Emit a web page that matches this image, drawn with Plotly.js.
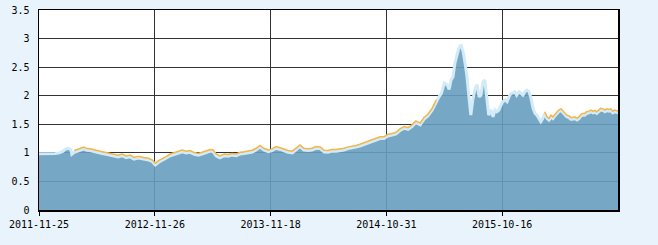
<!DOCTYPE html>
<html>
<head>
<meta charset="utf-8">
<script src="https://cdn.plot.ly/plotly-3.0.1.min.js"></script>
<style>html,body{margin:0;padding:0;background:#e8f3fb;}#chart{width:658px;height:245px;}</style>
</head>
<body>
<div id="chart"></div>
<script>
// trading-day index of each sampled point
const day = [0,17,34,42,50,54,61,66,68,73,78,85,93,99,106,114,123,131,139,148,156,164,172,181,189,197,203,
209,217,227,235,241,248,255,263,272,280,288,297,305,313,322,330,338,346,355,361,367,375,384,392,400,409,
417,425,433,442,450,458,466,475,483,491,500,508,516,525,533,541,549,558,566,574,583,591,599,607,616,
624,632,641,649,657,665,674,682,690,699,707,715,723,732,740,748,757,765,773,781,790,798,806,815,823,
829,834,840,846,850,854,858,862,866,870,875,879,883,887,891,895,899,904,908,912,916,920,924,928,932,937,941,945,949,953,957,961,966,970,974,978,982,986,990,995,999,1003,1007,1011,1015,
1019,1024,1028,1032,1036,1040,1044,1048,1053,1057,1061,1065,1069,1073,1077,1082,1086,1090,1094,1098,1102,1106,1111,1115,1119,1123,1127,1131,1135,1140,1144,1148,1152,1156,1160,1164,1169,1173,1177,1181,1185,1189,1193,1200];

// filled area values
const areaVals = [0.985,0.985,0.99,1.00,1.03,1.06,1.08,1.055,0.975,1.01,1.03,1.045,1.07,1.045,1.04,1.02,1.01,0.99,0.975,0.96,0.95,0.93,0.95,0.915,0.93,0.89,0.905,
0.905,0.89,0.875,0.845,0.79,0.835,0.875,0.905,0.95,0.975,0.99,1.02,1.00,1.01,0.975,0.96,0.98,1.01,1.03,1.02,0.95,0.915,0.95,0.94,0.96,0.95,
0.98,0.99,1.00,1.015,1.05,1.10,1.05,1.02,1.04,1.08,1.06,1.03,1.01,1.00,1.05,1.11,1.05,1.04,1.05,1.08,1.075,1.015,1.01,1.03,1.03,
1.04,1.05,1.075,1.085,1.10,1.12,1.145,1.17,1.19,1.225,1.25,1.25,1.295,1.31,1.33,1.39,1.43,1.41,1.46,1.53,1.49,1.59,1.645,1.75,1.895,
1.98,2.04,2.22,2.19,2.11,2.275,2.33,2.57,2.71,2.83,2.89,2.77,2.57,2.33,1.98,1.66,1.925,2.13,2.19,1.98,2.01,2.245,2.275,1.98,1.66,1.75,1.63,1.75,1.72,1.75,1.84,1.895,1.925,1.895,1.98,2.04,2.05,2.07,2.01,2.07,2.04,2.01,2.07,2.10,2.08,
1.98,1.78,1.69,1.66,1.60,1.545,1.60,1.69,1.60,1.575,1.63,1.60,1.645,1.69,1.72,1.74,1.70,1.66,1.63,1.62,1.59,1.59,1.60,1.575,1.60,1.645,1.66,1.66,1.69,1.70,1.72,1.70,1.71,1.69,1.72,1.75,1.74,1.72,1.74,1.73,1.74,1.70,1.72,1.70];

// orange line values (null where it is not visible)
const lineVals = [null,null,null,null,null,null,null,null,null,1.04,1.06,1.075,1.10,1.075,1.07,1.05,1.04,1.02,1.005,0.99,0.98,0.96,0.98,0.945,0.96,0.92,0.935,
0.935,0.92,0.905,0.875,0.82,0.865,0.905,0.935,0.98,1.005,1.02,1.05,1.03,1.04,1.005,0.99,1.01,1.04,1.06,1.05,0.98,0.945,0.98,0.97,0.99,0.98,
1.01,1.02,1.03,1.045,1.08,1.13,1.08,1.05,1.07,1.11,1.09,1.06,1.04,1.03,1.08,1.14,1.08,1.07,1.08,1.11,1.105,1.045,1.04,1.06,1.06,
1.07,1.08,1.105,1.115,1.13,1.15,1.175,1.20,1.22,1.255,1.28,1.28,1.325,1.34,1.36,1.42,1.46,1.44,1.49,1.56,1.52,1.62,1.675,1.78,1.925,
null,null,null,null,null,null,null,null,null,null,null,null,null,null,null,null,null,null,null,null,null,null,null,null,null,null,null,null,null,null,null,null,null,null,null,null,null,null,null,null,null,null,null,null,null,
null,null,null,null,null,null,null,1.72,1.63,1.605,1.66,1.63,1.675,1.72,1.75,1.77,1.73,1.69,1.66,1.65,1.62,1.62,1.63,1.605,1.63,1.675,1.69,1.69,1.72,1.73,1.75,1.73,1.74,1.72,1.75,1.78,1.77,1.75,1.77,1.76,1.77,1.73,1.75,1.73];

const xTickVals = [0,240,480,720,960];
const xTickText = ['2011-11-25','2012-11-26','2013-11-18','2014-10-31','2015-10-16'];
const yTickVals = [0,0.5,1,1.5,2,2.5,3,3.5];
const yTickText = ['0','0.5','1','1.5','2','2.5','3','3.5'];

const font = {family:'DejaVu Sans Mono, Liberation Mono, monospace', size:10, color:'#000'};

const traces = [
  {x: day, y: areaVals, type:'scatter', mode:'lines', fill:'tozeroy',
   fillcolor:'rgba(103,159,192,0.9)', line:{color:'#d3eaf7', width:3}, hoverinfo:'skip'},
  {x: day, y: lineVals, type:'scatter', mode:'lines', connectgaps:false,
   line:{color:'#f6b546', width:1.5}, hoverinfo:'skip'}
];

const layout = {
  width:658, height:245,
  paper_bgcolor:'#e8f3fb', plot_bgcolor:'#ffffff',
  margin:{l:39, r:40, t:10, b:35},
  showlegend:false,
  xaxis:{range:[0,1200], tickmode:'array', tickvals:xTickVals, ticktext:xTickText,
    showgrid:true, gridcolor:'#333333', gridwidth:1, zeroline:false,
    showline:true, linecolor:'#000', linewidth:1.5, mirror:true,
    ticks:'outside', ticklen:4, tickcolor:'#000', tickfont:font, fixedrange:true},
  yaxis:{range:[0,3.5], tickmode:'array', tickvals:yTickVals, ticktext:yTickText,
    showgrid:true, gridcolor:'#333333', gridwidth:1, zeroline:false,
    showline:true, linecolor:'#000', linewidth:1.5, mirror:true,
    ticks:'', ticklabelstandoff:6, tickfont:font, fixedrange:true}
};

Plotly.newPlot('chart', traces, layout, {staticPlot:true, displayModeBar:false});
</script>
</body>
</html>
